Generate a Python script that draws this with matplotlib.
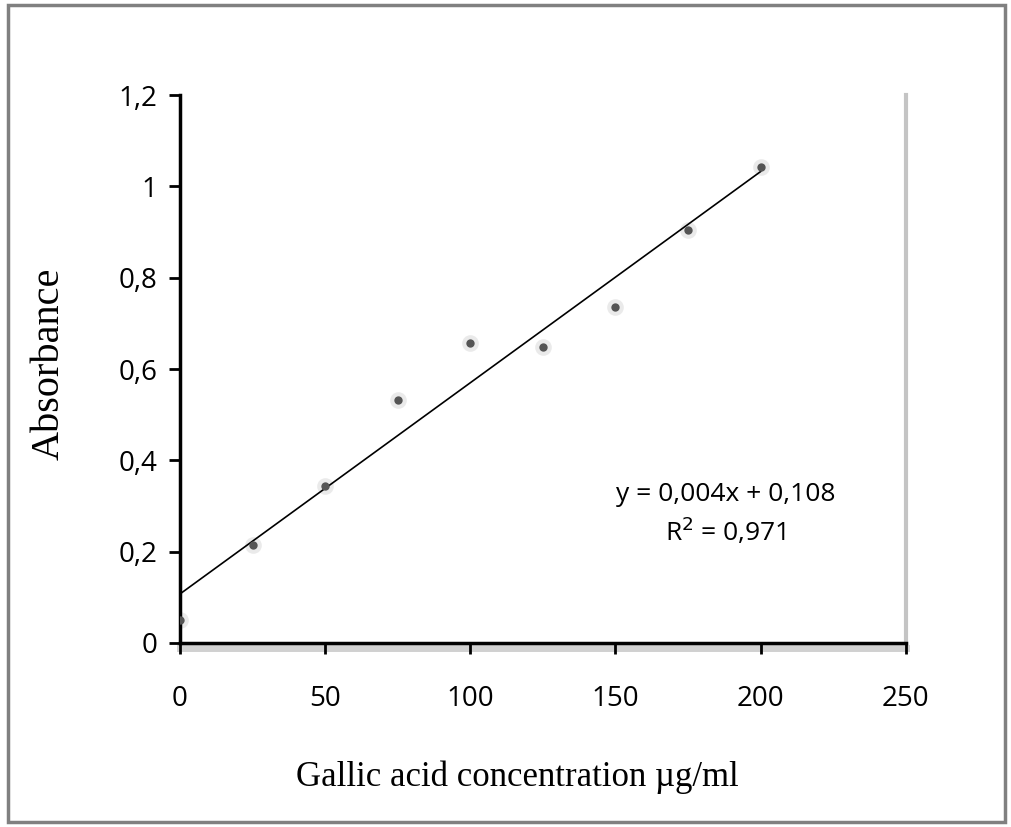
import numpy as np
import matplotlib
matplotlib.use("Agg")
import matplotlib.pyplot as plt
import matplotlib.transforms as mtransforms
from matplotlib.patches import Rectangle

# Data
conc = [0, 25, 50, 75, 100, 125, 150, 175, 200]
absorb = [0.05, 0.215, 0.344, 0.533, 0.656, 0.649, 0.735, 0.905, 1.043]
x_ticks = [0, 50, 100, 150, 200, 250]
y_ticks = [0, 0.2, 0.4, 0.6, 0.8, 1.0, 1.2]
y_tick_labels = ["0", "0,2", "0,4", "0,6", "0,8", "1", "1,2"]
x_label = "Gallic acid concentration µg/ml"
y_label = "Absorbance"
eq_text = "y = 0,004x + 0,108\nR$^{2}$ = 0,971"

sans = ["Liberation Sans Narrow", "Open Sans", "DejaVu Sans"]
serif = ["DejaVu Serif Condensed", "Liberation Serif", "DejaVu Serif"]

fig = plt.figure(figsize=(10.11, 8.27), dpi=100)
fig.patches.append(Rectangle((0.008, 0.006), 0.986, 0.988, transform=fig.transFigure,
                             fill=False, edgecolor="#808080", linewidth=2.5))

ax = fig.add_axes([0.178, 0.2225, 0.718, 0.6625])
ax.set_xlim(0, 250)
ax.set_ylim(0, 1.2)

# trend line from least squares fit
slope, intercept = np.polyfit(conc, absorb, 1)
xl = np.array([0, 200])
ax.plot(xl, slope * xl + intercept, color="black", linewidth=1.2, zorder=3)

# blurred-looking markers
ax.plot(conc, absorb, "o", color="#bbbbbb", markersize=12, alpha=0.3, zorder=2,
        markeredgewidth=0)
ax.plot(conc, absorb, "o", color="#555555", markersize=6, zorder=4, markeredgewidth=0)

for s in ["top", "right"]:
    ax.spines[s].set_visible(False)
ax.spines["left"].set_linewidth(2.5)
ax.spines["bottom"].set_linewidth(2.5)

# faint right edge shadow and bottom spine shadow
ax.axvline(250, color="#c4c4c4", linewidth=3, zorder=1, clip_on=False)
shadow = ax.transAxes + mtransforms.ScaledTranslation(0, -5 / 100, fig.dpi_scale_trans)
ax.plot([0, 1], [0, 0], transform=shadow, color="#d0d0d0", linewidth=5,
        clip_on=False, zorder=1)

ax.set_xticks(x_ticks)
ax.set_xticklabels([str(v) for v in x_ticks], family=sans, fontsize=20)
ax.set_yticks(y_ticks)
ax.set_yticklabels(y_tick_labels, family=sans, fontsize=20)
ax.tick_params(axis="both", direction="out", length=8, width=2, color="black")
ax.tick_params(axis="x", pad=22)
ax.tick_params(axis="y", pad=8)

ax.set_xlabel(x_label, family=serif, fontsize=25)
ax.xaxis.set_label_coords(0.465, -0.215)
ax.set_ylabel(y_label, family=serif, fontsize=29)
ax.yaxis.set_label_coords(-0.155, 0.51)

ax.text(0.752, 0.235, eq_text, transform=ax.transAxes, ha="center", va="center",
        family=sans, fontsize=19, linespacing=1.35)

fig.savefig("out.png", dpi=100, facecolor="white")
